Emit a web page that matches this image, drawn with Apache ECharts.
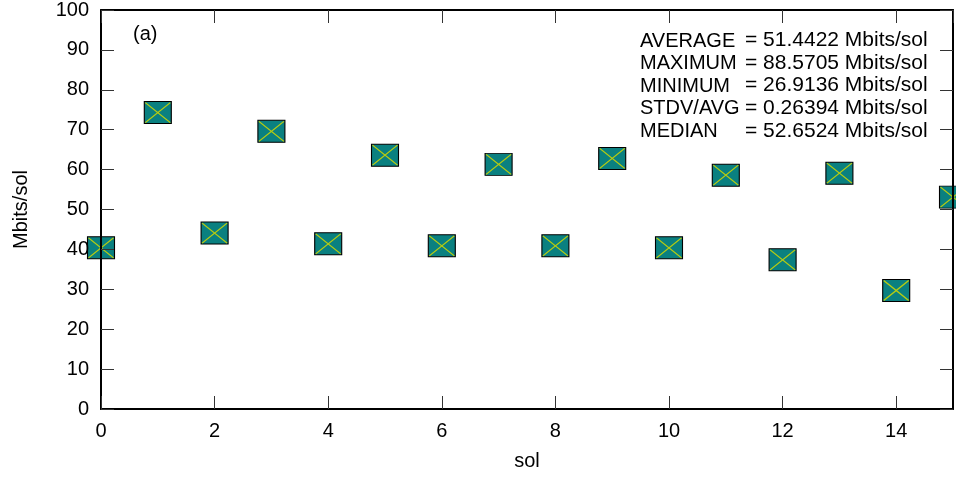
<!DOCTYPE html>
<html>
<head>
<meta charset="utf-8">
<script src="https://cdn.jsdelivr.net/npm/echarts@6/dist/echarts.min.js"></script>
<style>
  html, body { margin: 0; padding: 0; background: #fff; }
  #chart { width: 956px; height: 482px; }
</style>
</head>
<body>
<div id="chart"></div>
<script>
// measured throughput per sol
const sols = [0, 1, 2, 3, 4, 5, 6, 7, 8, 9, 10, 11, 12, 13, 14, 15];
const mbits = [40.4, 74.3, 44.1, 69.6, 41.4, 63.6, 40.9, 61.3, 40.9, 62.8, 40.4, 58.6, 37.4, 59.1, 29.7, 53.1];
const statLabels = ['AVERAGE', 'MAXIMUM', 'MINIMUM', 'STDV/AVG', 'MEDIAN'];
const statValues = ['= 51.4422 Mbits/sol', '= 88.5705 Mbits/sol', '= 26.9136 Mbits/sol', '= 0.26394 Mbits/sol', '= 52.6524 Mbits/sol'];

const FONT = '"Liberation Sans", Arial, Helvetica, sans-serif';
const points = sols.map((s, i) => [s, mbits[i]]);

let chart = echarts.init(document.getElementById('chart'));

let frameAxis = {
  axisLine: { show: true, onZero: false, lineStyle: { color: '#000', width: 2 } },
  axisTick: { show: true, inside: true, length: 13, lineStyle: { color: '#333', width: 1 } },
  splitLine: { show: false },
  z: 5
};

// stats block, label column + value column
let statText = [];
statLabels.forEach((lbl, i) => {
  statText.push({
    type: 'text', left: 640, top: 31 + i * 22.6, z: 10,
    style: { text: lbl, font: '20px ' + FONT, fill: '#000' }
  });
  statText.push({
    type: 'text', left: 745, top: 30 + i * 22.6, z: 10,
    style: { text: statValues[i], font: '21px ' + FONT, fill: '#000' }
  });
});

let option = {
  animation: false,
  grid: { left: 101, right: 3, top: 8, bottom: 73 },
  xAxis: [
    Object.assign({}, frameAxis, {
      type: 'value', min: 0, max: 15, interval: 2, position: 'bottom',
      name: 'sol', nameLocation: 'middle', nameGap: 42,
      nameTextStyle: { fontSize: 20, fontFamily: FONT, color: '#000' },
      axisLabel: { fontSize: 20, fontFamily: FONT, color: '#000', margin: 12, showMaxLabel: false }
    }),
    Object.assign({}, frameAxis, {
      type: 'value', min: 0, max: 15, interval: 2, position: 'top',
      axisLabel: { show: false }
    })
  ],
  yAxis: [
    Object.assign({}, frameAxis, {
      type: 'value', min: 0, max: 100, interval: 10, position: 'left',
      name: 'Mbits/sol', nameLocation: 'middle', nameGap: 70,
      nameTextStyle: { fontSize: 20, fontFamily: FONT, color: '#000' },
      axisLabel: { fontSize: 20, fontFamily: FONT, color: '#000', margin: 12 }
    }),
    Object.assign({}, frameAxis, {
      type: 'value', min: 0, max: 100, interval: 10, position: 'right',
      axisLabel: { show: false }
    })
  ],
  series: [
    {
      type: 'scatter',
      data: points,
      symbol: 'rect',
      symbolSize: [27, 22],
      itemStyle: { color: '#0a8080', borderColor: '#000', borderWidth: 1, opacity: 1 },
      z: 2
    },
    {
      type: 'scatter',
      data: points,
      symbol: 'path://M0,0L27,22M27,0L0,22',
      symbolSize: [25, 20],
      itemStyle: { color: 'none', borderColor: '#b8cc10', borderWidth: 1.2, opacity: 1 },
      z: 3
    }
  ],
  graphic: [
    {
      type: 'text', left: 133, top: 24, z: 10,
      style: { text: '(a)', font: '20px ' + FONT, fill: '#000' }
    }
  ].concat(statText)
};

chart.setOption(option);
</script>
</body>
</html>
